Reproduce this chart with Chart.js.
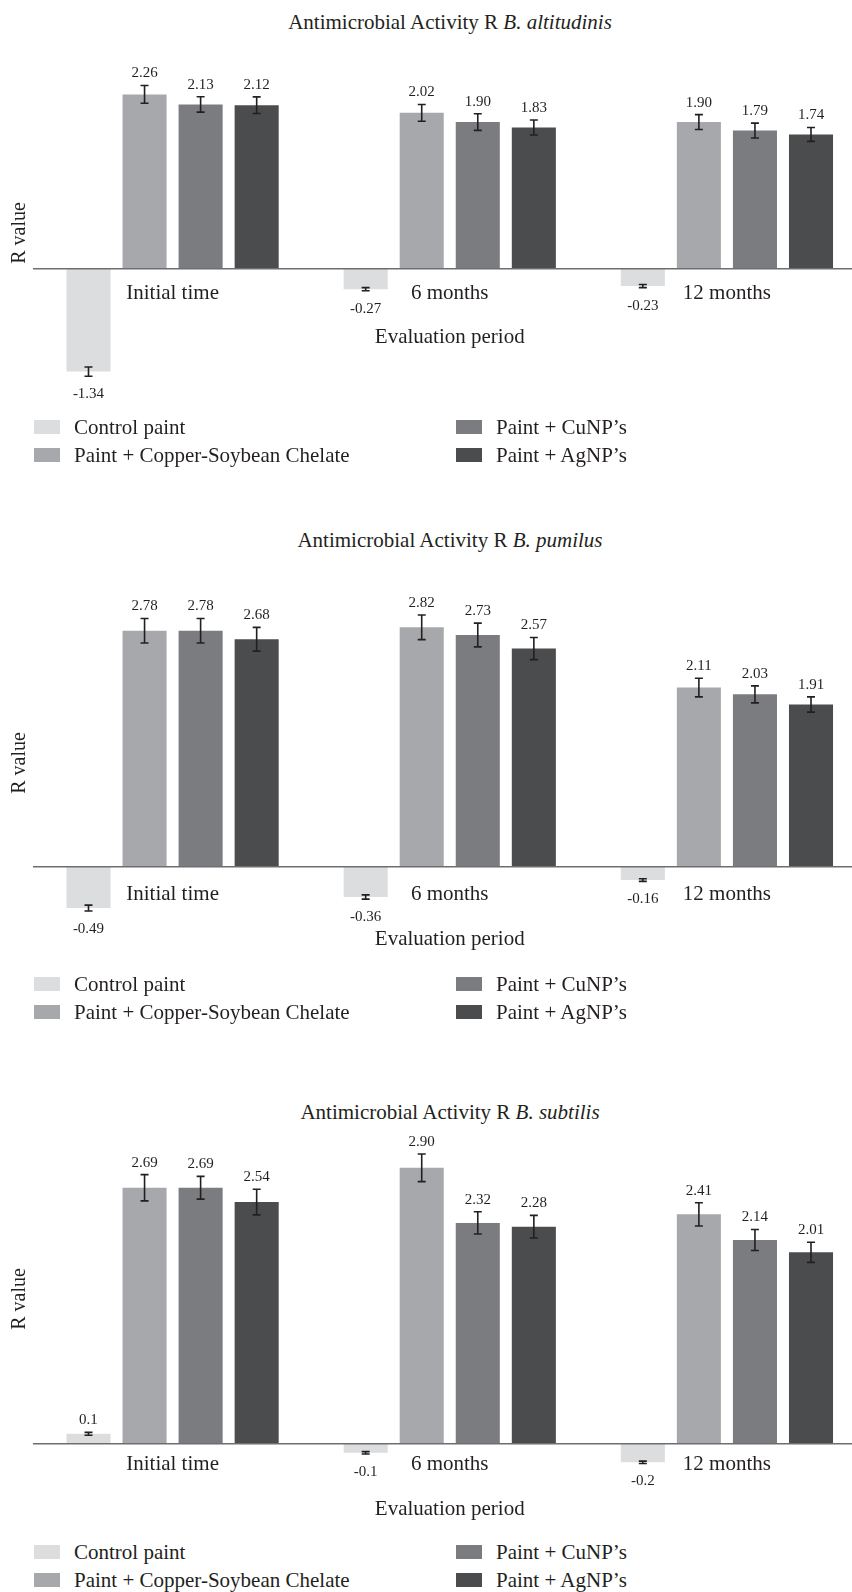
<!DOCTYPE html>
<html>
<head>
<meta charset="utf-8">
<title>Antimicrobial Activity R</title>
<script src="https://cdn.jsdelivr.net/npm/chart.js@4.4.1/dist/chart.umd.min.js"></script>
<style>
  html, body { margin: 0; padding: 0; width: 852px; height: 1592px; overflow: hidden; background: #fff; }
  body { position: relative; font-family: "Liberation Serif", "DejaVu Serif", serif; color: #231f20; }
  .title { position: absolute; left: 0; width: 900px; text-align: center; font-size: 21px; line-height: 24px; white-space: nowrap; }
  canvas { position: absolute; left: 0; }
  .legend { position: absolute; left: 34px; display: grid; grid-auto-flow: column; grid-template-rows: 28px 28px; grid-template-columns: 422px 360px; font-size: 21px; }
  .legend .item { display: flex; align-items: center; height: 28px; white-space: nowrap; }
  .legend .swatch { width: 26px; height: 14px; margin-right: 14px; flex: none; }
</style>
</head>
<body>
<script>
// Shared categories and series
const categories = ['Initial time', '6 months', '12 months'];
const seriesNames = ['Control paint', 'Paint + Copper-Soybean Chelate', 'Paint + CuNP\u2019s', 'Paint + AgNP\u2019s'];
const seriesColors = ['#dcddde', '#a7a8ab', '#7b7c80', '#4b4c4e'];

// B. altitudinis: R values and error half-widths
const altitudinisControl = [-1.34, -0.27, -0.23];
const altitudinisChelate = [2.26, 2.02, 1.90];
const altitudinisCuNP    = [2.13, 1.90, 1.79];
const altitudinisAgNP    = [2.12, 1.83, 1.74];
const altitudinisControlErr = [0.06, 0.02, 0.02];
const altitudinisChelateErr = [0.115, 0.108, 0.097];
const altitudinisCuNPErr    = [0.10, 0.108, 0.097];
const altitudinisAgNPErr    = [0.108, 0.097, 0.09];

// B. pumilus
const pumilusControl = [-0.49, -0.36, -0.16];
const pumilusChelate = [2.78, 2.82, 2.11];
const pumilusCuNP    = [2.78, 2.73, 2.03];
const pumilusAgNP    = [2.68, 2.57, 1.91];
const pumilusControlErr = [0.035, 0.025, 0.015];
const pumilusChelateErr = [0.145, 0.145, 0.11];
const pumilusCuNPErr    = [0.145, 0.14, 0.10];
const pumilusAgNPErr    = [0.14, 0.13, 0.09];

// B. subtilis
const subtilisControl = [0.1, -0.1, -0.2];
const subtilisChelate = [2.69, 2.90, 2.41];
const subtilisCuNP    = [2.69, 2.32, 2.14];
const subtilisAgNP    = [2.54, 2.28, 2.01];
const subtilisControlErr = [0.015, 0.012, 0.012];
const subtilisChelateErr = [0.138, 0.145, 0.122];
const subtilisCuNPErr    = [0.12, 0.117, 0.11];
const subtilisAgNPErr    = [0.135, 0.119, 0.106];

// Decimal places shown in the value labels, per series
const altitudinisDigits = [2, 2, 2, 2];
const pumilusDigits     = [2, 2, 2, 2];
const subtilisDigits    = [1, 2, 2, 2];

// Page layout of the three panels
const CANVAS_W = 880;
const AREA_RIGHT = 865.5;
const TEXT = '#231f20';
const FONT = 'Liberation Serif';

const panels = [
  { species: 'B. altitudinis',
    values: [altitudinisControl, altitudinisChelate, altitudinisCuNP, altitudinisAgNP],
    errors: [altitudinisControlErr, altitudinisChelateErr, altitudinisCuNPErr, altitudinisAgNPErr],
    digits: altitudinisDigits,
    titleTop: 10, canvasTop: 30, canvasH: 420, areaTop: 60, areaBottom: 406,
    zeroY: 268.4, pxPerUnit: 77, tickPad: 12, titlePad: 7, legendTop: 413 },
  { species: 'B. pumilus',
    values: [pumilusControl, pumilusChelate, pumilusCuNP, pumilusAgNP],
    errors: [pumilusControlErr, pumilusChelateErr, pumilusCuNPErr, pumilusAgNPErr],
    digits: pumilusDigits,
    titleTop: 527.5, canvasTop: 560, canvasH: 420, areaTop: 590, areaBottom: 936,
    zeroY: 866.5, pxPerUnit: 84.8, tickPad: 15, titlePad: 5, legendTop: 970 },
  { species: 'B. subtilis',
    values: [subtilisControl, subtilisChelate, subtilisCuNP, subtilisAgNP],
    errors: [subtilisControlErr, subtilisChelateErr, subtilisCuNPErr, subtilisAgNPErr],
    digits: subtilisDigits,
    titleTop: 1100, canvasTop: 1090, canvasH: 440, areaTop: 1120, areaBottom: 1478,
    zeroY: 1443.3, pxPerUnit: 95, tickPad: 9, titlePad: 10, legendTop: 1538 }
];

// Error bars and value labels at the end of every bar
const barAnnotations = {
  id: 'barAnnotations',
  afterDatasetsDraw(chart) {
    const ctx = chart.ctx;
    const y = chart.scales.y;
    chart.data.datasets.forEach((ds, di) => {
      const meta = chart.getDatasetMeta(di);
      meta.data.forEach((bar, i) => {
        const v = ds.data[i];
        const e = ds.errors[i];
        const yHi = y.getPixelForValue(v + e);
        const yLo = y.getPixelForValue(v - e);
        ctx.save();
        ctx.strokeStyle = TEXT;
        ctx.lineWidth = 1.6;
        ctx.beginPath();
        ctx.moveTo(bar.x, yHi); ctx.lineTo(bar.x, yLo);
        ctx.moveTo(bar.x - 4, yHi); ctx.lineTo(bar.x + 4, yHi);
        ctx.moveTo(bar.x - 4, yLo); ctx.lineTo(bar.x + 4, yLo);
        ctx.stroke();
        ctx.fillStyle = TEXT;
        ctx.font = '15px "' + FONT + '"';
        ctx.textAlign = 'center';
        ctx.textBaseline = 'middle';
        const ly = v >= 0 ? yHi - 12 : yLo + 18;
        ctx.fillText(v.toFixed(ds.digits), bar.x, ly);
        ctx.restore();
      });
    });
  }
};

panels.forEach((p) => {
  const title = document.createElement('div');
  title.className = 'title';
  title.style.top = p.titleTop + 'px';
  const it = document.createElement('i');
  it.textContent = p.species;
  title.appendChild(document.createTextNode('Antimicrobial Activity R '));
  title.appendChild(it);
  document.body.appendChild(title);

  const canvas = document.createElement('canvas');
  canvas.width = CANVAS_W;
  canvas.height = p.canvasH;
  canvas.style.top = p.canvasTop + 'px';
  canvas.style.width = CANVAS_W + 'px';
  canvas.style.height = p.canvasH + 'px';
  document.body.appendChild(canvas);

  const yMax = (p.zeroY - p.areaTop) / p.pxPerUnit;
  const yMin = -(p.areaBottom - p.zeroY) / p.pxPerUnit;

  const chart = new Chart(canvas, {
    type: 'bar',
    data: {
      labels: categories,
      datasets: seriesNames.map((name, k) => ({
        label: name,
        data: p.values[k],
        errors: p.errors[k],
        digits: p.digits[k],
        backgroundColor: seriesColors[k],
        borderWidth: 0,
        categoryPercentage: 0.809,
        barPercentage: 0.786,
        clip: false
      }))
    },
    options: {
      responsive: false,
      devicePixelRatio: 1,
      animation: false,
      layout: { padding: { top: p.areaTop - p.canvasTop, bottom: p.canvasTop + p.canvasH - p.areaBottom, left: 0, right: CANVAS_W - AREA_RIGHT } },
      plugins: { legend: { display: false }, title: { display: false }, tooltip: { enabled: false } },
      scales: {
        x: {
          position: { y: 0 },
          grid: { display: false, drawTicks: false },
          border: { display: true, color: '#6d6e71', width: 1.5, z: 1 },
          ticks: { color: TEXT, font: { family: FONT, size: 21 }, padding: p.tickPad, maxRotation: 0, autoSkip: false },
          title: { display: true, text: 'Evaluation period', color: TEXT, font: { family: FONT, size: 21 }, padding: { top: p.titlePad, bottom: 0 } }
        },
        y: {
          min: yMin,
          max: yMax,
          grid: { display: false, drawTicks: false },
          border: { display: false },
          ticks: { display: false },
          title: { display: true, text: 'R value', color: TEXT, font: { family: FONT, size: 20 }, padding: { top: 8, bottom: 2 } }
        }
      }
    },
    plugins: [barAnnotations]
  });

  // Legend in two columns, built from the chart's own legend items
  const legend = document.createElement('div');
  legend.className = 'legend';
  legend.style.top = p.legendTop + 'px';
  Chart.defaults.plugins.legend.labels.generateLabels(chart).forEach((item) => {
    const row = document.createElement('div');
    row.className = 'item';
    const sw = document.createElement('span');
    sw.className = 'swatch';
    sw.style.background = item.fillStyle;
    row.appendChild(sw);
    row.appendChild(document.createTextNode(item.text));
    legend.appendChild(row);
  });
  document.body.appendChild(legend);
});
</script>
</body>
</html>
